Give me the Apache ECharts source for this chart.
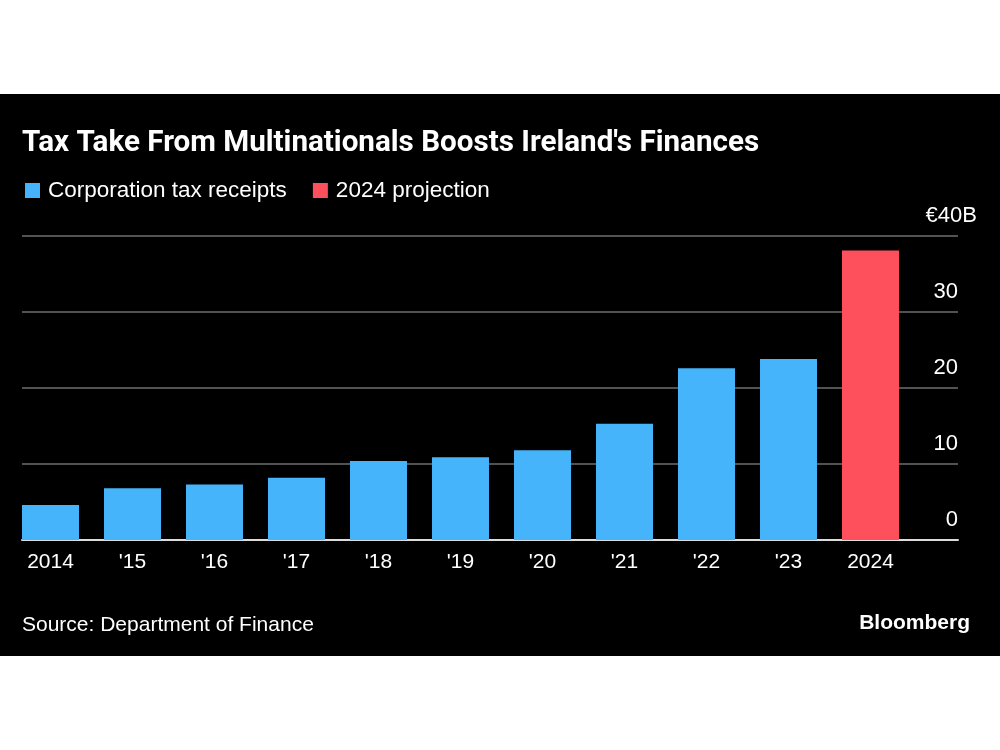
<!DOCTYPE html>
<html>
<head>
<meta charset="utf-8">
<script src="https://cdn.jsdelivr.net/npm/echarts@6/dist/echarts.min.js"></script>
<style>
  html, body { margin: 0; padding: 0; background: #ffffff; width: 1000px; height: 750px; overflow: hidden; }
  #panel { position: absolute; left: 0; top: 94px; width: 1000px; height: 562px; background: #000000; }
  #chart { width: 1000px; height: 562px; }
</style>
</head>
<body>
<div id="panel"><div id="chart"></div></div>
<script>
// ---- data ----
const years = ['2014', "'15", "'16", "'17", "'18", "'19", "'20", "'21", "'22", "'23", '2024'];
const receipts = [4.6, 6.8, 7.3, 8.2, 10.4, 10.9, 11.8, 15.3, 22.6, 23.8, null];
const projection = [null, null, null, null, null, null, null, null, null, null, 38.1];
const yTicks = [0, 10, 20, 30, 40];
const titleText = "Tax Take From Multinationals Boosts Ireland's Finances";
const sourceText = 'Source: Department of Finance';
const seriesNames = ['Corporation tax receipts', '2024 projection'];

const FONT = "'Liberation Sans', Arial, sans-serif";
const chart = echarts.init(document.getElementById('chart'), null, { renderer: 'canvas' });

chart.setOption({
  backgroundColor: '#000000',
  animation: false,
  textStyle: { fontFamily: FONT },
  title: [
    { text: titleText, left: 17, top: 30,
      textStyle: { color: '#ffffff', fontSize: 29.6, fontWeight: 'bold', fontFamily: "Roboto, sans-serif" } },
    { text: sourceText, left: 17, top: 516,
      textStyle: { color: '#ffffff', fontSize: 21, fontWeight: 'normal', fontFamily: FONT } },
    { text: 'Bloomberg', right: 25, top: 514,
      textStyle: { color: '#ffffff', fontSize: 21, fontWeight: 'bold', fontFamily: FONT } }
  ],
  legend: {
    left: 20, top: 80, icon: 'rect', itemWidth: 15, itemHeight: 15, itemGap: 26,
    textStyle: { color: '#ffffff', fontSize: 22.5, fontFamily: FONT, padding: [0, 0, 0, 3] },
    data: seriesNames
  },
  grid: [
    { left: 9.5, right: 88.5, top: 142, bottom: 116 },
    { left: 22, right: 42, top: 142, bottom: 116 }
  ],
  xAxis: [
    { type: 'category', gridIndex: 0, data: years,
      axisLine: { show: false }, axisTick: { show: false },
      axisLabel: { color: '#ffffff', fontSize: 21, margin: 12, fontFamily: FONT } },
    { type: 'value', gridIndex: 1, min: 0, max: 1,
      axisLine: { show: true, lineStyle: { color: '#dcdcdc', width: 2 } },
      axisTick: { show: false }, axisLabel: { show: false }, splitLine: { show: false } }
  ],
  yAxis: [
    { type: 'value', gridIndex: 0, min: 0, max: 40, interval: 10, show: false },
    { type: 'value', gridIndex: 1, position: 'right', min: yTicks[0], max: yTicks[yTicks.length - 1], interval: 10,
      axisLine: { show: false }, axisTick: { show: false },
      splitLine: { show: true, lineStyle: { color: '#6e6e6e', width: 1.5 } },
      axisLabel: {
        align: 'right', verticalAlign: 'bottom', margin: 19, padding: [0, 0, 9, 0],
        color: '#ffffff', fontSize: 22, fontFamily: FONT,
        formatter: function (v) {
          return v === 40 ? '{n|€40}{u|B}' : '{n|' + v + '}{h| }';
        },
        rich: {
          n: { color: '#ffffff', fontSize: 22, fontFamily: FONT },
          u: { color: '#ffffff', fontSize: 22, fontFamily: FONT },
          h: { color: 'rgba(0,0,0,0)', fontSize: 22, width: 19, fontFamily: FONT }
        }
      } }
  ],
  series: [
    { name: seriesNames[0], type: 'bar', xAxisIndex: 0, yAxisIndex: 0, stack: 'tax',
      data: receipts, barCategoryGap: '30.5%', itemStyle: { color: '#46b4fa' } },
    { name: seriesNames[1], type: 'bar', xAxisIndex: 0, yAxisIndex: 0, stack: 'tax',
      data: projection, barCategoryGap: '30.5%', itemStyle: { color: '#fe4f5c' } }
  ]
});
</script>
</body>
</html>
